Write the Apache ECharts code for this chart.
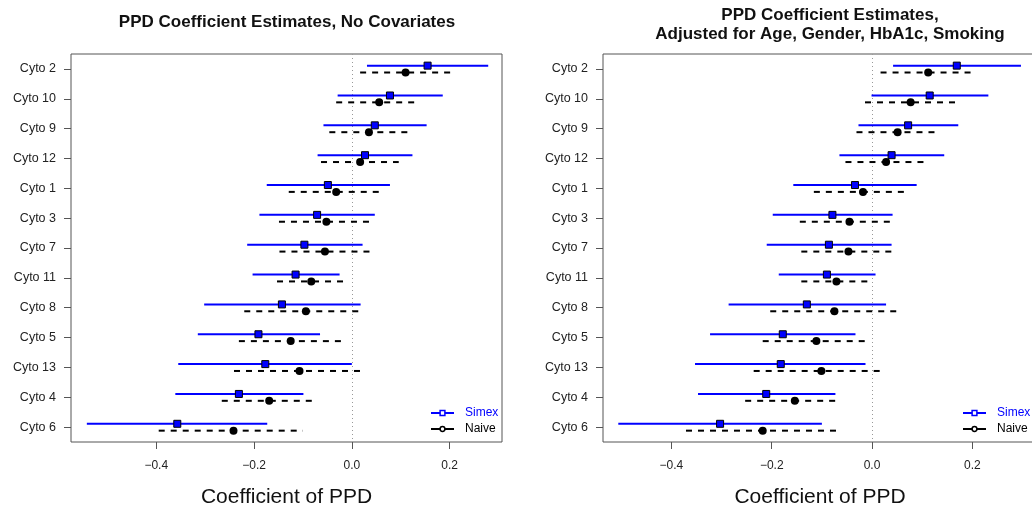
<!DOCTYPE html>
<html>
<head>
<meta charset="utf-8">
<script src="https://cdn.jsdelivr.net/npm/echarts@6/dist/echarts.min.js"></script>
<style>
  html, body { margin: 0; padding: 0; background: #fff; }
  #chart { width: 1032px; height: 510px; }
</style>
</head>
<body>
<div id="chart"></div>
<script>
// rows, top to bottom
var categories = ['Cyto 2', 'Cyto 10', 'Cyto 9', 'Cyto 12', 'Cyto 1', 'Cyto 3', 'Cyto 7',
  'Cyto 11', 'Cyto 8', 'Cyto 5', 'Cyto 13', 'Cyto 4', 'Cyto 6'];
var xTicks = [-0.4, -0.2, 0, 0.2];

// panel 1: no covariates
var simexEst1 = [0.155, 0.078, 0.047, 0.027, -0.049, -0.071, -0.097, -0.115, -0.143, -0.191, -0.177, -0.231, -0.357];
var simexLo1 = [0.031, -0.029, -0.058, -0.070, -0.174, -0.189, -0.214, -0.203, -0.302, -0.315, -0.355, -0.361, -0.542];
var simexHi1 = [0.279, 0.186, 0.153, 0.124, 0.078, 0.047, 0.022, -0.025, 0.018, -0.065, 0.000, -0.099, -0.173];
var naiveEst1 = [0.110, 0.056, 0.035, 0.017, -0.032, -0.052, -0.055, -0.083, -0.094, -0.125, -0.107, -0.169, -0.242];
var naiveLo1 = [0.017, -0.032, -0.046, -0.063, -0.129, -0.149, -0.148, -0.153, -0.220, -0.231, -0.241, -0.266, -0.395];
var naiveHi1 = [0.205, 0.134, 0.117, 0.096, 0.063, 0.042, 0.039, -0.014, 0.024, -0.018, 0.027, -0.074, -0.100];

// panel 2: adjusted for age, gender, HbA1c, smoking
var simexEst2 = [0.169, 0.115, 0.072, 0.039, -0.034, -0.079, -0.086, -0.090, -0.130, -0.178, -0.182, -0.211, -0.303];
var simexLo2 = [0.042, -0.001, -0.027, -0.065, -0.157, -0.198, -0.210, -0.186, -0.286, -0.323, -0.353, -0.347, -0.506];
var simexHi2 = [0.297, 0.232, 0.172, 0.144, 0.089, 0.041, 0.039, 0.007, 0.028, -0.033, -0.013, -0.073, -0.100];
var naiveEst2 = [0.112, 0.077, 0.051, 0.028, -0.018, -0.045, -0.047, -0.071, -0.075, -0.111, -0.101, -0.154, -0.218];
var naiveLo2 = [0.017, -0.014, -0.031, -0.053, -0.116, -0.144, -0.141, -0.141, -0.203, -0.218, -0.236, -0.253, -0.371];
var naiveHi2 = [0.205, 0.167, 0.130, 0.110, 0.072, 0.044, 0.047, -0.005, 0.055, -0.006, 0.027, -0.065, -0.063];

var FONT = '"Liberation Sans", Arial, Helvetica, sans-serif';
var BLUE = '#0000ff';
var simexShift = -0.11; // simex drawn a bit above the row, naive a bit below
var naiveShift = 0.12;

function ciData(lo, hi, shift) {
  return lo.map(function (v, i) { return [v, hi[i], i + shift]; });
}
function ptData(est, shift) {
  return est.map(function (v, i) { return [v, i + shift]; });
}
function ciRender(color, dash) {
  return function (params, api) {
    var a = api.coord([api.value(0), api.value(2)]);
    var b = api.coord([api.value(1), api.value(2)]);
    return {
      type: 'line',
      shape: { x1: a[0], y1: a[1], x2: b[0], y2: b[1] },
      style: { stroke: color, lineWidth: 2, lineDash: dash }
    };
  };
}

function panelSeries(g, sEst, sLo, sHi, nEst, nLo, nHi) {
  return [
    {
      type: 'custom', xAxisIndex: g, yAxisIndex: 2 * g + 1, silent: true,
      data: ciData(sLo, sHi, simexShift), encode: { x: [0, 1], y: 2 },
      renderItem: ciRender(BLUE, null), z: 2
    },
    {
      type: 'custom', xAxisIndex: g, yAxisIndex: 2 * g + 1, silent: true,
      data: ciData(nLo, nHi, naiveShift), encode: { x: [0, 1], y: 2 },
      renderItem: ciRender('#000', [6, 6]), z: 2
    },
    {
      name: 'Simex', type: 'line', xAxisIndex: g, yAxisIndex: 2 * g + 1, silent: true,
      data: ptData(sEst, simexShift), symbol: 'rect', symbolSize: 7,
      itemStyle: { color: BLUE, borderColor: '#000', borderWidth: 1 },
      lineStyle: { width: 0, opacity: 0 }, z: 4,
      markLine: {
        silent: true, symbol: 'none', label: { show: false },
        lineStyle: { color: '#999', type: [1, 3], width: 1 },
        data: [{ xAxis: 0 }], z: 1
      }
    },
    {
      name: 'Naive', type: 'line', xAxisIndex: g, yAxisIndex: 2 * g + 1, silent: true,
      data: ptData(nEst, naiveShift), symbol: 'circle', symbolSize: 8,
      itemStyle: { color: '#000' },
      lineStyle: { width: 0, opacity: 0 }, z: 3
    }
  ];
}

function xAxisFor(g, min, max) {
  return {
    gridIndex: g, type: 'value', min: min, max: max, position: 'bottom',
    axisLine: { show: false, onZero: false }, splitLine: { show: false },
    axisTick: { show: true, length: 7, customValues: xTicks, lineStyle: { color: '#555' } },
    axisLabel: {
      customValues: xTicks, fontSize: 12, color: '#222', margin: 18, fontFamily: FONT,
      formatter: function (v) { return v.toFixed(1).replace('-', '\u2212'); }
    },
    name: 'Coefficient of PPD', nameLocation: 'middle', nameGap: 45,
    nameTextStyle: { fontSize: 21, color: '#111', fontFamily: FONT }
  };
}
function yAxesFor(g) {
  return [
    {
      gridIndex: g, type: 'category', inverse: true, data: categories, boundaryGap: true,
      position: 'left',
      axisLine: { show: false, onZero: false }, splitLine: { show: false },
      axisTick: { show: true, alignWithLabel: true, length: 7, lineStyle: { color: '#555' } },
      axisLabel: { fontSize: 12.5, color: '#222', margin: 15, fontFamily: FONT }
    },
    {
      gridIndex: g, type: 'value', show: false, inverse: true, min: -0.5, max: 12.5,
      axisLine: { onZero: false }
    }
  ];
}
function legendFor(left) {
  return {
    left: left, top: 406, orient: 'vertical', padding: 0, itemGap: 2,
    itemWidth: 23, itemHeight: 6, selectedMode: false,
    textStyle: { fontSize: 12, fontFamily: FONT, padding: [0, 0, 0, 6], lineHeight: 14 },
    data: [
      { name: 'Simex', textStyle: { color: BLUE },
        itemStyle: { color: '#fff', borderColor: BLUE, borderWidth: 1.5 },
        lineStyle: { color: BLUE, width: 2, opacity: 1, type: 'solid' } },
      { name: 'Naive', textStyle: { color: '#000' },
        itemStyle: { color: '#fff', borderColor: '#000', borderWidth: 1.5 },
        lineStyle: { color: '#000', width: 2, opacity: 1, type: 'solid' } }
    ]
  };
}

var titleStyle = { fontSize: 17, fontWeight: 'bold', color: '#111', fontFamily: FONT, lineHeight: 19 };

var chart = echarts.init(document.getElementById('chart'), null, { renderer: 'canvas' });
chart.setOption({
  animation: false,
  backgroundColor: '#fff',
  title: [
    { text: 'PPD Coefficient Estimates, No Covariates', left: 287, top: 13, padding: 0,
      textAlign: 'center', textStyle: titleStyle },
    { text: 'PPD Coefficient Estimates,\nAdjusted for Age, Gender, HbA1c, Smoking', left: 830, top: 6,
      padding: 0, textAlign: 'center', textStyle: titleStyle }
  ],
  legend: [legendFor(430), legendFor(962)],
  grid: [
    { left: 71, top: 54, width: 431, height: 388, show: true, borderColor: '#555', borderWidth: 1,
      containLabel: false, outerBoundsMode: 'none' },
    { left: 603, top: 54, width: 434, height: 388, show: true, borderColor: '#555', borderWidth: 1,
      containLabel: false, outerBoundsMode: 'none' }
  ],
  xAxis: [xAxisFor(0, -0.5744, 0.3072), xAxisFor(1, -0.5365, 0.329)],
  yAxis: yAxesFor(0).concat(yAxesFor(1)),
  series: panelSeries(0, simexEst1, simexLo1, simexHi1, naiveEst1, naiveLo1, naiveHi1)
    .concat(panelSeries(1, simexEst2, simexLo2, simexHi2, naiveEst2, naiveLo2, naiveHi2))
});
</script>
</body>
</html>
